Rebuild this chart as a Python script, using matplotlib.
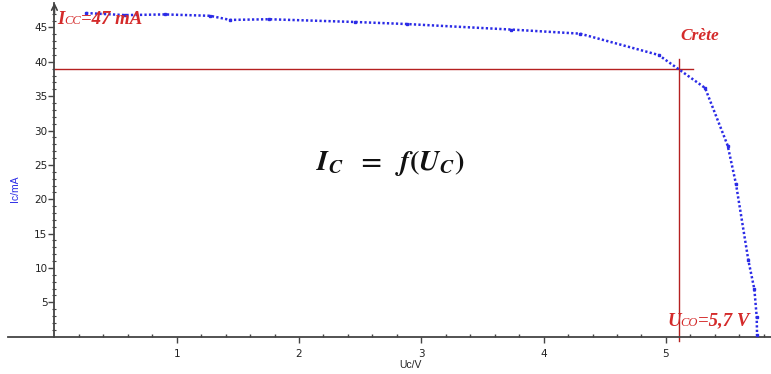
import matplotlib
matplotlib.use("Agg")
import matplotlib.pyplot as plt
from matplotlib.ticker import FixedLocator
from matplotlib.offsetbox import TextArea, HPacker, AnnotationBbox

# Data (Uc in V, Ic in mA)
uc = [0.258, 0.577, 0.904, 1.272, 1.436, 1.755, 2.458, 2.883, 3.733, 4.298,
      4.94, 5.32, 5.505, 5.573, 5.674, 5.723, 5.742, 5.745]
ic = [47.1, 46.8, 46.9, 46.7, 46.1, 46.2, 45.8, 45.5, 44.7, 44.1,
      41.0, 36.2, 27.8, 22.2, 11.1, 6.9, 2.9, 0.25]
x_ticks = [1, 2, 3, 4, 5]
y_ticks = [5, 10, 15, 20, 25, 30, 35, 40, 45]
peak_u, peak_i = 5.11, 39.0

RED = "#d42a2a"
DRED = "#b52020"
BLUE = "#2b2be6"

plt.rcParams["mathtext.fontset"] = "stix"

fig = plt.figure(figsize=(7.71, 3.74), dpi=100)
ax = fig.add_axes([0, 0, 1, 1])
ax.set_xlim(-0.445, 5.859)
ax.set_ylim(-5.43, 49.0)

for s in ["top", "right"]:
    ax.spines[s].set_visible(False)
ax.spines["left"].set_position(("data", 0))
ax.spines["bottom"].set_position(("data", 0))
ax.spines["left"].set_bounds(0, 48.6)
ax.spines["bottom"].set_bounds(-0.38, 5.859)
for s in ["left", "bottom"]:
    ax.spines[s].set_color("#444444")
    ax.spines[s].set_linewidth(1.3)

ax.xaxis.set_major_locator(FixedLocator(x_ticks))
ax.xaxis.set_minor_locator(FixedLocator([v / 5 for v in range(1, 30)]))
ax.yaxis.set_major_locator(FixedLocator(y_ticks))
ax.yaxis.set_minor_locator(FixedLocator(list(range(1, 49))))
ax.tick_params(axis="x", which="major", direction="out", length=4, width=1,
               color="#444444", labelsize=7.5, pad=5, labelcolor="#222222")
ax.tick_params(axis="x", which="minor", direction="in", length=2.5, width=1,
               color="#444444")
ax.tick_params(axis="y", which="major", direction="out", length=4, width=1,
               color="#444444", labelsize=7.5, pad=1, labelcolor="#222222")
ax.tick_params(axis="y", which="minor", direction="inout", length=2.5, width=0.8,
               color="#444444")

# arrow on top of y axis
ax.annotate("", xy=(0, 49.0), xytext=(0, 46.5),
            arrowprops=dict(arrowstyle="->", color="#444444", lw=1.2,
                            mutation_scale=10))

# crosshair at peak
ax.plot([0, 5.22], [peak_i, peak_i], color=DRED, lw=1)
ax.plot([peak_u, peak_u], [40.4, -0.6], color=DRED, lw=1)

# curve
ax.plot(uc, ic, color=BLUE, lw=1.8, linestyle=(0, (0.9, 0.9)),
        dash_capstyle="butt", marker="s", markersize=2.0, zorder=3)

# axis labels
ax.text(15, 185, "Ic/mA", transform=None, rotation=90, color=BLUE,
        fontsize=7.5, ha="center", va="center",
        family="Liberation Sans")
ax.text(0.532, 1 - 365 / 374, "Uc/V", transform=ax.transAxes, color="#222222",
        fontsize=7.5, ha="center", va="center", family="Liberation Sans")


def rich(xy_px, parts, color=RED):
    areas = []
    for txt, size, weight in parts:
        ta = TextArea(txt, textprops=dict(color=color, fontsize=size,
                                          fontweight=weight, fontstyle="italic",
                                          family="Liberation Serif"))
        areas.append(ta)
    box = HPacker(children=areas, align="baseline", pad=0, sep=0)
    ab = AnnotationBbox(box, (xy_px[0] / 771, 1 - xy_px[1] / 374),
                        xycoords="figure fraction", frameon=False,
                        box_alignment=(0, 0.5), pad=0)
    ax.add_artist(ab)


rich((57, 19), [("I", 13.5, "bold"), ("CC", 9, "normal"),
                ("=47 mA", 13.5, "bold")])
rich((667, 321), [("U", 13.5, "bold"), ("CO", 9, "normal"),
                  ("=5,7 V", 13.5, "bold")])
ax.text(700, 374 - 36, "Crète", transform=None, color=RED, fontsize=12.5,
        fontweight="bold", fontstyle="italic", family="Liberation Serif",
        ha="center", va="center")

# central formula
ax.text(390, 374 - 163,
        r"$\mathbfit{I}_{\mathbfit{C}}\ \ \mathbf{=}\ \ \mathbfit{f}\mathbf{(}\mathbfit{U}_{\mathbfit{C}}\mathbf{)}$",
        transform=None, fontsize=20.5, ha="center", va="center", color="#111111")

fig.savefig("out.png", dpi=100)
